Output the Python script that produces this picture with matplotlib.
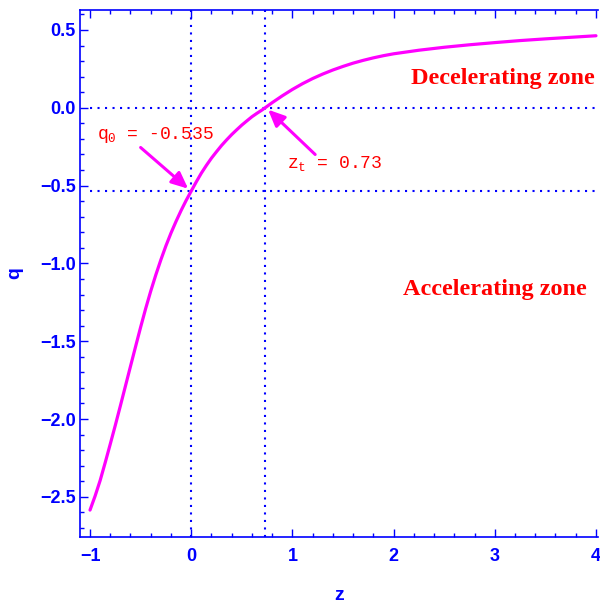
# deceleration parameter q(z) with transition redshift and present value marked
import numpy as np
import matplotlib.pyplot as plt
from matplotlib.ticker import MultipleLocator

# q(z)
z_vals = [-1.00, -0.95, -0.90, -0.85, -0.80, -0.75, -0.70, -0.65, -0.60, -0.55,
          -0.50, -0.45, -0.40, -0.35, -0.30, -0.25, -0.20, -0.15, -0.10, -0.05,
          0.00, 0.05, 0.10, 0.15, 0.20, 0.25, 0.30, 0.35, 0.40, 0.45,
          0.50, 0.55, 0.60, 0.65, 0.70, 0.73, 0.80, 0.90, 1.00, 1.10,
          1.20, 1.30, 1.40, 1.50, 1.60, 1.70, 1.80, 1.90, 2.00, 2.25,
          2.50, 2.75, 3.00, 3.25, 3.50, 3.75, 4.00]
q_vals = [-2.585, -2.495, -2.395, -2.28, -2.161, -2.04, -1.915, -1.788, -1.661, -1.535,
          -1.41, -1.29, -1.178, -1.074, -0.977, -0.887, -0.805, -0.73, -0.66, -0.595,
          -0.535, -0.476, -0.42, -0.37, -0.3235, -0.282, -0.242, -0.206, -0.172, -0.141,
          -0.111, -0.084, -0.0575, -0.035, -0.014, 0.0, 0.033, 0.077, 0.118, 0.155,
          0.188, 0.217, 0.243, 0.266, 0.287, 0.305, 0.321, 0.335, 0.347, 0.370,
          0.389, 0.405, 0.419, 0.432, 0.443, 0.453, 0.463]

q0 = -0.535
zt = 0.73

blue = '#0000ff'
mag = '#ff00ff'

plt.rcParams['mathtext.fontset'] = 'custom'
plt.rcParams['mathtext.rm'] = 'Liberation Mono'
plt.rcParams['mathtext.it'] = 'Liberation Mono'

fig = plt.figure(figsize=(6.0, 6.07), dpi=100)
ax = fig.add_axes([80 / 600, 1 - 537 / 607, 518 / 600, 527 / 607])

# guide lines
dots = (0, (1, 2.6))
ax.axvline(0, color=blue, lw=1.5, ls=dots)
ax.axvline(zt, color=blue, lw=1.5, ls=dots)
ax.hlines([0, q0], -1, 4.02, color=blue, lw=1.5, ls=dots)

ax.plot(z_vals, q_vals, color=mag, lw=2.3, solid_capstyle='round',
        solid_joinstyle='round')

ax.set_xlim(-1.099, 4.02)
ax.set_ylim(-2.758, 0.6285)

# annotations
arr = dict(arrowstyle='-|>,head_length=1.0,head_width=0.45', color=mag, lw=2.2,
           shrinkA=0, shrinkB=0)
ax.annotate('', xy=(-0.03, -0.52), xytext=(-0.50, -0.255), arrowprops=arr)
ax.annotate('', xy=(0.76, -0.012), xytext=(1.225, -0.30), arrowprops=arr)
ax.text(-0.93, -0.175, r'$q_0$ = -0.535', color='red', fontsize=13,
        family='Liberation Mono', va='center', ha='left')
ax.text(0.945, -0.355, r'$z_t$ = 0.73', color='red', fontsize=13,
        family='Liberation Mono', va='center', ha='left')
ax.text(3.99, 0.19, 'Decelerating zone', color='red', fontsize=17.5,
        family='Liberation Serif', weight='bold', va='center', ha='right')
ax.text(3.91, -1.17, 'Accelerating zone', color='red', fontsize=17.5,
        family='Liberation Serif', weight='bold', va='center', ha='right')

# frame and ticks
for side in ['left', 'bottom', 'top']:
    ax.spines[side].set_color(blue)
    ax.spines[side].set_linewidth(1.2)
ax.spines['right'].set_visible(False)

ax.xaxis.set_major_locator(MultipleLocator(1))
ax.xaxis.set_minor_locator(MultipleLocator(0.2))
ax.yaxis.set_major_locator(MultipleLocator(0.5))
ax.yaxis.set_minor_locator(MultipleLocator(0.1))
ax.tick_params(which='both', direction='in', color=blue, width=1.0,
               top=True, right=False)
ax.tick_params(which='major', length=5.5)
ax.tick_params(which='minor', length=3)
ax.tick_params(axis='x', which='major', pad=8)
ax.tick_params(axis='y', which='major', pad=3)
for lab in ax.get_xticklabels() + ax.get_yticklabels():
    lab.set_family('Liberation Sans')
    lab.set_weight('bold')
    lab.set_fontsize(13)
    lab.set_color(blue)

ax.set_xlabel('z', color=blue, fontsize=14, family='Liberation Sans',
              weight='bold', labelpad=16)
ax.set_ylabel('q', color=blue, fontsize=14, family='Liberation Sans',
              weight='bold', labelpad=12)

fig.savefig('out.png', dpi=100)
